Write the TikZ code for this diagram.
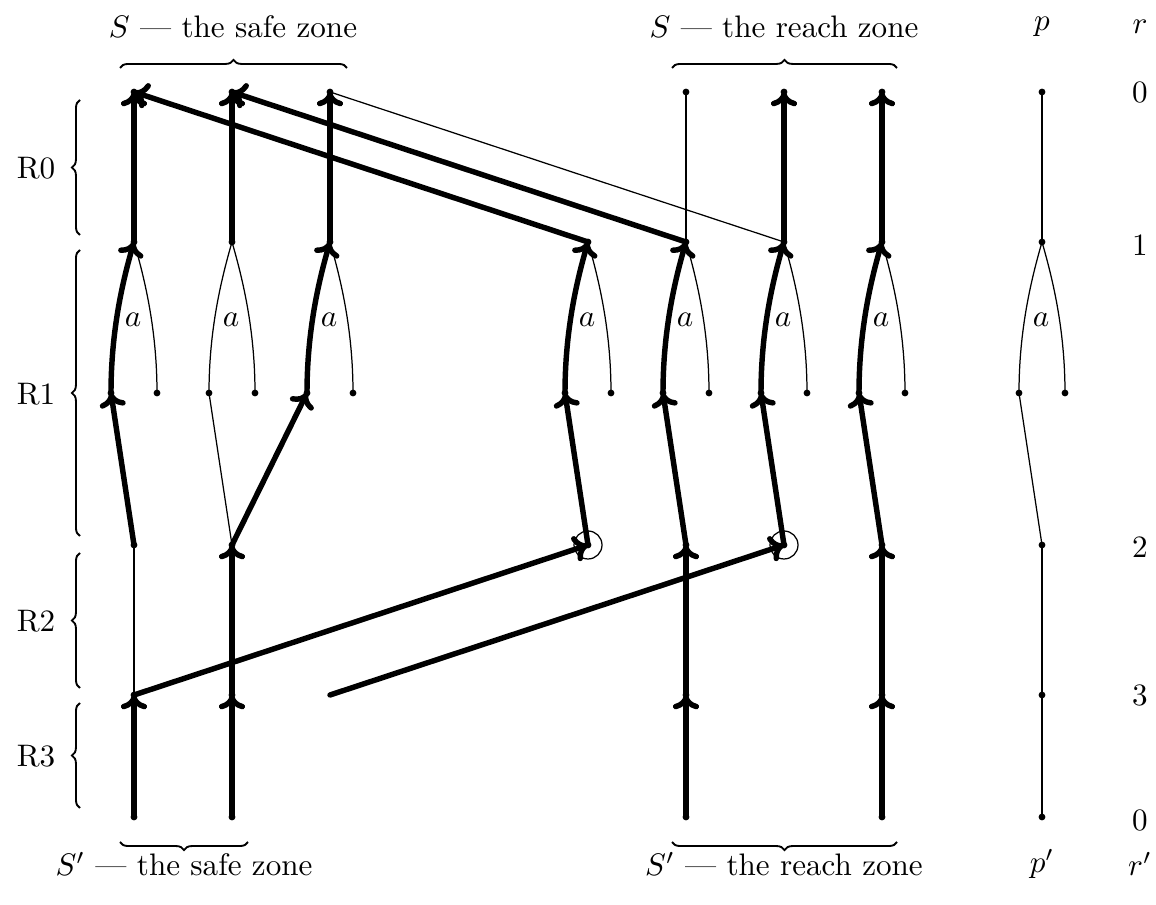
\documentclass[tikz,border=0pt]{standalone}
\usetikzlibrary{arrows.meta,decorations.pathreplacing,calc}
\begin{document}
\begin{tikzpicture}[x=0.3215pt,y=-0.3215pt,
  thin/.style={line width=0.4pt},
  heavy/.style={line width=1.75pt,line cap=round},
  harrow/.style={heavy,-{Computer Modern Rightarrow[length=4.6pt,width=8.4pt]}},
  brc/.style={line width=0.6pt,decorate,decoration={brace,amplitude=2.6pt}},
  dot/.style={fill=black},
  lab/.style={inner sep=0pt}]
\useasboundingbox (0,0) rectangle (1156,905);

% columns of the safe zone, the reach zone and p
\foreach \n/\x in {1/134,2/232,3/330,4/588,5/686,6/784,7/882,P/1042}{
  \coordinate (F\n) at (\x,242);
  \coordinate (La\n) at (\x-23,393);
  \coordinate (Ra\n) at (\x+23,393);
}
\coordinate (T1) at (134,92);  \coordinate (T2) at (232,92);  \coordinate (T3) at (330,92);
\coordinate (T5) at (686,92);  \coordinate (T6) at (784,92);  \coordinate (T7) at (882,92);
\coordinate (TP) at (1042,92);
\coordinate (B1) at (134,545); \coordinate (B2) at (232,545); \coordinate (B4) at (588,545);
\coordinate (B5) at (686,545); \coordinate (B6) at (784,545); \coordinate (B7) at (882,545);
\coordinate (BP) at (1042,545);
\coordinate (C1) at (134,695); \coordinate (C2) at (232,695); \coordinate (C3) at (330,695);
\coordinate (C5) at (686,695); \coordinate (C7) at (882,695); \coordinate (CP) at (1042,695);
\coordinate (D1) at (134,817); \coordinate (D2) at (232,817); \coordinate (D5) at (686,817);
\coordinate (D7) at (882,817); \coordinate (DP) at (1042,817);

% thin connections
\draw[thin] (T5) -- (F5);
\draw[thin] (T3) -- (F6);
\draw[thin] (TP) -- (FP);
\draw[thin] (B2) -- (La2);
\draw[thin] (LaP) -- (BP);
\draw[thin] (C1) -- (B1);
\draw[thin] (CP) -- (BP);
\draw[thin] (DP) -- (CP);
\foreach \n in {1,2,3,4,5,6,7,P}{
  \draw[thin] (F\n) .. controls ($(F\n)+(11,38)$) and ($(Ra\n)+(0,-63)$) .. (Ra\n);
  \node[lab] (a\n) at ($(F\n)+(-1,78)$) {$a$};
}
\foreach \n in {2,P}{
  \draw[thin] (La\n) .. controls ($(La\n)+(0,-63)$) and ($(F\n)+(-11,38)$) .. (F\n);
}
\draw[thin] (B4) circle (14);
\draw[thin] (B6) circle (14);

% dots at the states
\foreach \c in {T1,T2,T3,T5,T6,T7,TP,F1,F2,F3,F4,F5,F6,F7,FP,
  La1,La2,La3,La4,La5,La6,La7,LaP,Ra1,Ra2,Ra3,Ra4,Ra5,Ra6,Ra7,RaP,
  B1,B2,B4,B5,B6,B7,BP,C1,C2,C5,C7,CP,D1,D2,D5,D7,DP}{
  \fill[dot] (\c) circle (1.1pt);
}

% heavy transitions
\foreach \n in {1,2,3,6,7}{ \draw[harrow] (F\n) -- (T\n); }
\draw[harrow] (F4) -- (T1);
\draw[harrow] (F5) -- (T2);
\foreach \n in {1,3,4,5,6,7}{
  \draw[harrow] (La\n) .. controls ($(La\n)+(0,-63)$) and ($(F\n)+(-11,38)$) .. (F\n);
}
\draw[harrow] (B1) -- (La1);
\draw[harrow] (B2) -- (La3);
\draw[harrow] (B4) -- (La4);
\draw[harrow] (B5) -- (La5);
\draw[harrow] (B6) -- (La6);
\draw[harrow] (B7) -- (La7);
\draw[harrow] (C2) -- (B2);
\draw[harrow] (C5) -- (B5);
\draw[harrow] (C7) -- (B7);
\draw[harrow] (C1) -- (B4);
\draw[harrow] (C3) -- (B6);
\draw[harrow] (D1) -- (C1);
\draw[harrow] (D2) -- (C2);
\draw[harrow] (D5) -- (C5);
\draw[harrow] (D7) -- (C7);

% braces
\draw[brc] (120,68) -- (347,68);
\draw[brc] (672,68) -- (897,68);
\draw[brc] (248,842) -- (120,842);
\draw[brc] (897,842) -- (672,842);
\draw[brc] (80,235) -- (80,100);
\draw[brc] (80,536) -- (80,250);
\draw[brc] (80,688) -- (80,553);
\draw[brc] (80,808) -- (80,703);

% headings and labels
\node (hsafe) at (233,27) {$S$ --- the safe zone};
\node (hreach) at (784,27) {$S$ --- the reach zone};
\node (hp) at (1042,27) {$p$};
\node (hr) at (1140,27) {$r$};
\node (fsafe) at (184,864) {$S'$ --- the safe zone};
\node (freach) at (784,864) {$S'$ --- the reach zone};
\node (fp) at (1042,864) {$p'$};
\node (fr) at (1140,864) {$r'$};
\node (r0) at (1140,92) {0};
\node (r1) at (1140,245) {1};
\node (r2) at (1140,547) {2};
\node (r3) at (1140,695) {3};
\node (r4) at (1140,820) {0};
\node (R0) at (36,168) {R0};
\node (R1) at (36,394) {R1};
\node (R2) at (36,621) {R2};
\node (R3) at (36,756) {R3};
\end{tikzpicture}
\end{document}
